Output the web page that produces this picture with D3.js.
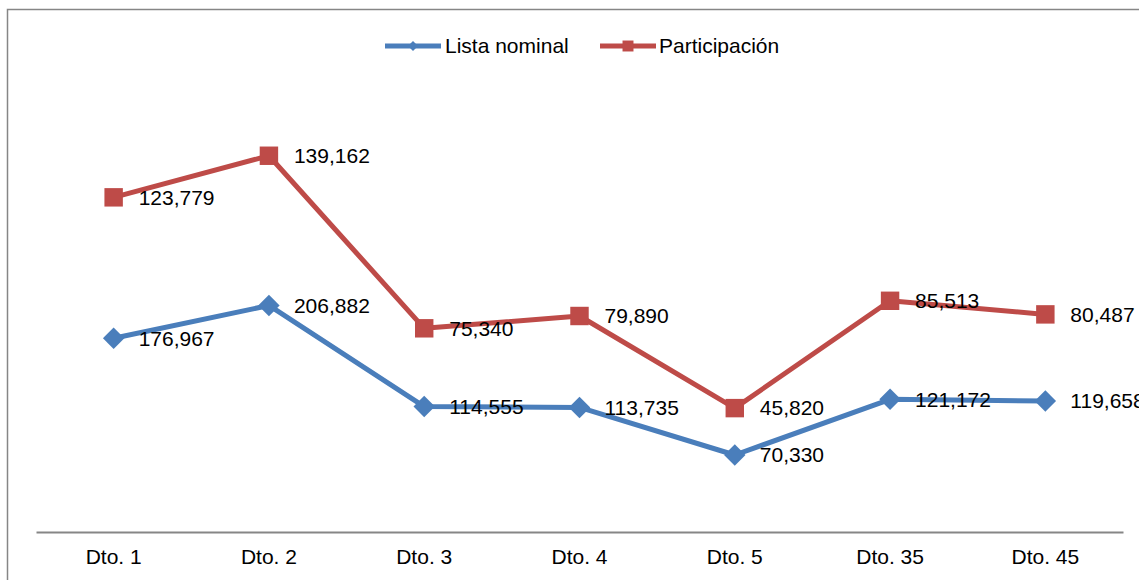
<!DOCTYPE html>
<html>
<head>
<meta charset="utf-8">
<script src="https://cdn.jsdelivr.net/npm/d3@7"></script>
<style>
  body { margin: 0; background: #fff; }
  svg { display: block; font-family: "Liberation Sans", Arial, sans-serif; }
</style>
</head>
<body>
<svg id="chart" width="1139" height="580"></svg>
<script>
var categories = ["Dto. 1", "Dto. 2", "Dto. 3", "Dto. 4", "Dto. 5", "Dto. 35", "Dto. 45"];
var listaNominal = [176967, 206882, 114555, 113735, 70330, 121172, 119658];
var participacion = [123779, 139162, 75340, 79890, 45820, 85513, 80487];
var seriesNames = ["Lista nominal", "Participación"];

var svg = d3.select("#chart");
var dims = { left: 36, right: 1123, top: 94, bottom: 532 };
var colors = { lista: "#4A7EBB", part: "#BE4B48", frame: "#868686" };

// chart frame (right and bottom edges fall outside the picture)
svg.append("rect")
  .attr("x", 7.5).attr("y", 9.5)
  .attr("width", 1200).attr("height", 700)
  .attr("fill", "none")
  .attr("stroke", colors.frame)
  .attr("stroke-width", 1.5);

var x = d3.scaleBand().domain(categories).range([dims.left, dims.right]);
// primary axis for lista nominal, hidden secondary axis for participacion
var yLeft = d3.scaleLinear().domain([0, 400000]).range([dims.bottom, dims.top]);
var yRight = d3.scaleLinear().domain([0, 162000]).range([dims.bottom, dims.top]);

var xAxis = svg.append("g")
  .attr("transform", "translate(0," + dims.bottom + ")")
  .call(d3.axisBottom(x).tickSize(0).tickPadding(17));
xAxis.select(".domain").attr("stroke", colors.frame).attr("stroke-width", 2);
xAxis.selectAll("text")
  .attr("fill", "#000")
  .style("font-size", "21px")
  .style("font-family", "Liberation Sans, Arial, sans-serif");

var cx = function(i) { return x(categories[i]) + x.bandwidth() / 2; };

var drawSeries = function(values, yScale, color, diamond) {
  var line = d3.line()
    .x(function(d, i) { return cx(i); })
    .y(function(d) { return yScale(d); });
  svg.append("path")
    .datum(values)
    .attr("d", line)
    .attr("fill", "none")
    .attr("stroke", color)
    .attr("stroke-width", 5)
    .attr("stroke-linejoin", "round");
  svg.append("g").selectAll("path")
    .data(values)
    .enter()
    .append("path")
    .attr("d", d3.symbol().type(d3.symbolSquare).size(diamond ? 230 : 340))
    .attr("transform", function(d, i) {
      return "translate(" + cx(i) + "," + yScale(d) + ")" + (diamond ? " rotate(45)" : "");
    })
    .attr("fill", color);
  svg.append("g").selectAll("text")
    .data(values)
    .enter()
    .append("text")
    .attr("x", function(d, i) { return cx(i) + 25; })
    .attr("y", function(d) { return yScale(d); })
    .attr("dy", "0.35em")
    .style("font-size", "21px")
    .attr("fill", "#000")
    .text(function(d) { return d3.format(",")(d); });
};

drawSeries(listaNominal, yLeft, colors.lista, true);
drawSeries(participacion, yRight, colors.part, false);

// legend
var legendItems = [
  { name: seriesNames[0], color: colors.lista, x: 385, diamond: true },
  { name: seriesNames[1], color: colors.part, x: 600, diamond: false }
];
var legend = svg.append("g").selectAll("g")
  .data(legendItems)
  .enter()
  .append("g")
  .attr("transform", function(d) { return "translate(" + d.x + ",46)"; });
legend.append("line")
  .attr("x1", 0).attr("x2", 56)
  .attr("stroke", function(d) { return d.color; })
  .attr("stroke-width", 5);
legend.append("path")
  .attr("d", function(d) {
    return d3.symbol().type(d3.symbolSquare).size(d.diamond ? 50 : 120)();
  })
  .attr("transform", function(d) { return "translate(28,0)" + (d.diamond ? " rotate(45)" : ""); })
  .attr("fill", function(d) { return d.color; });
legend.append("text")
  .attr("x", function(d) { return d.diamond ? 60 : 59; })
  .attr("dy", "0.35em")
  .style("font-size", "21px")
  .attr("fill", "#000")
  .text(function(d) { return d.name; });
</script>
</body>
</html>
